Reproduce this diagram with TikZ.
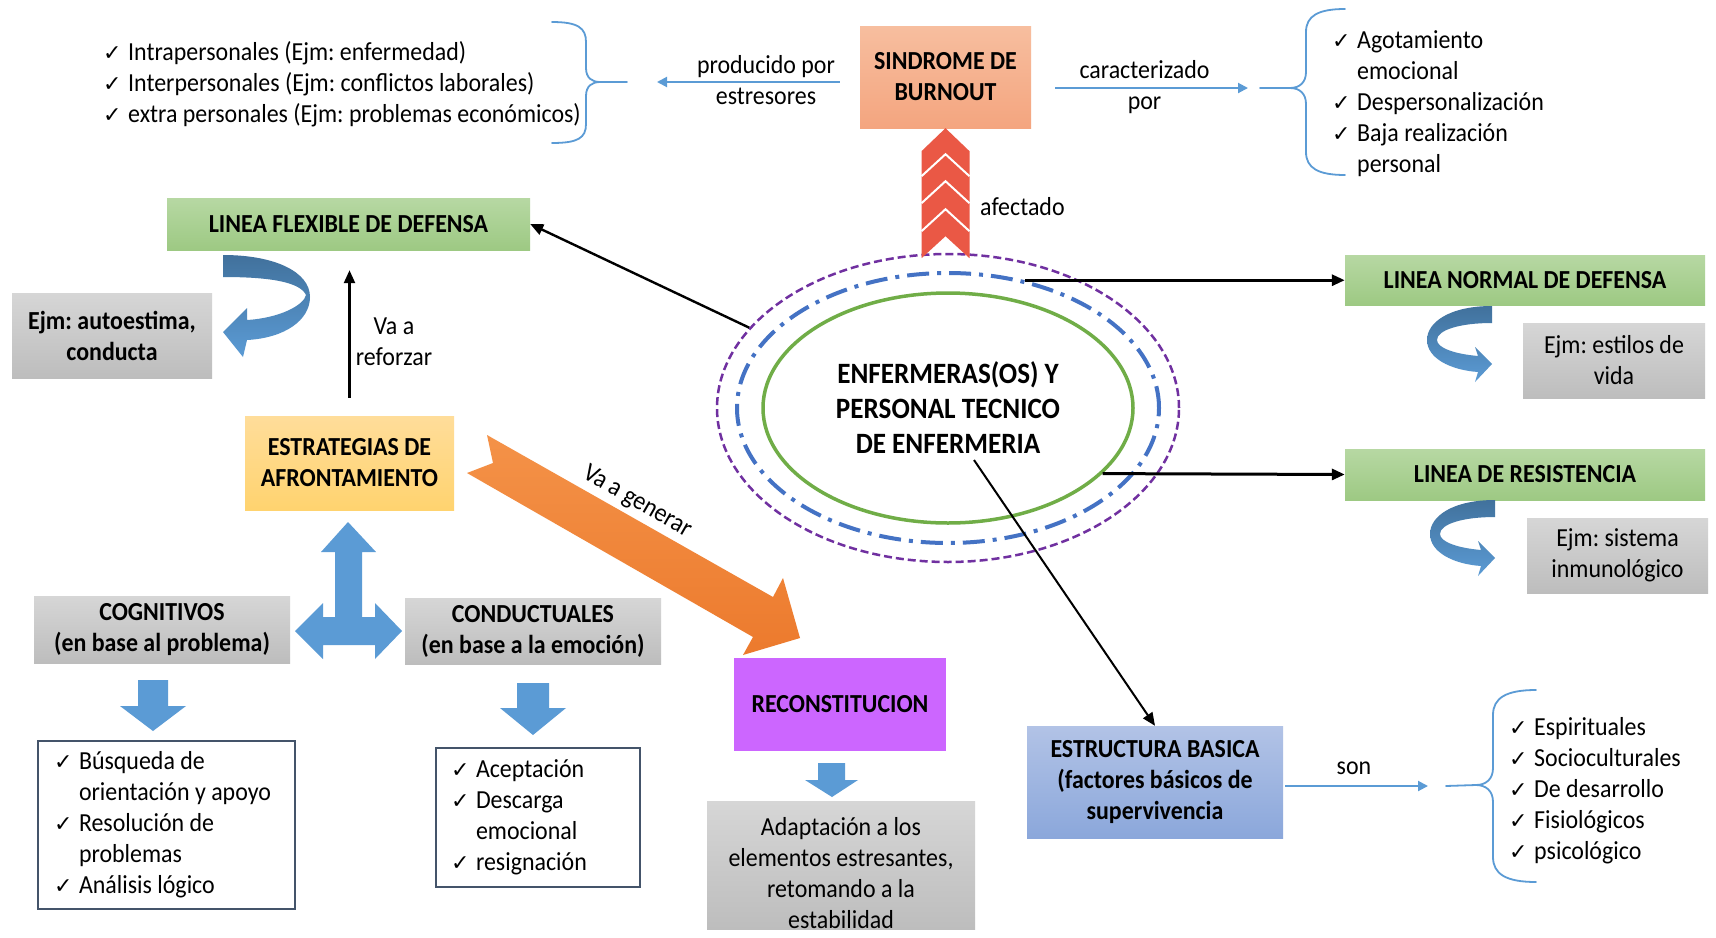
\documentclass[tikz,border=0pt]{standalone}
\usepackage{fontspec}
\setmainfont{Carlito}[FakeStretch=0.92]
\newfontfamily\chkfont{DejaVu Sans}
\usetikzlibrary{arrows.meta,shapes.geometric}
\frenchspacing

\definecolor{verdeA}{HTML}{B7D8A3}
\definecolor{verdeB}{HTML}{9DC983}
\definecolor{grisA}{HTML}{D6D6D6}
\definecolor{grisB}{HTML}{BDBDBD}
\definecolor{salmonA}{HTML}{F7BE9F}
\definecolor{salmonB}{HTML}{F4A57F}
\definecolor{amarA}{HTML}{FFDD9A}
\definecolor{amarB}{HTML}{FFD36F}
\definecolor{azulA}{HTML}{B2C3E6}
\definecolor{azulB}{HTML}{8BA7DB}
\definecolor{violeta}{HTML}{CC66FF}
\definecolor{naranja}{HTML}{EC7A2D}
\definecolor{naranjaA}{HTML}{F49248}
\definecolor{rojo}{HTML}{EA5845}
\definecolor{celeste}{HTML}{5B9BD5}
\definecolor{celesteosc}{HTML}{41719C}
\definecolor{morado}{HTML}{7030A0}
\definecolor{verde}{HTML}{70AD47}
\definecolor{azulrey}{HTML}{4472C4}
\definecolor{borde}{HTML}{44546A}

\newcommand{\ok}{\makebox[25pt][l]{\chkfont\fontsize{22}{22}\selectfont ✓}}
\newcommand{\sang}{\hspace*{25pt}}

\begin{document}
\begin{tikzpicture}[x=1pt, y=-1pt, font=\fontsize{26}{31}\selectfont,
  caja/.style={inner sep=0pt, align=center},
  negrita/.style={font=\fontsize{26}{31}\selectfont\bfseries},
  verdecaja/.style={caja, negrita, top color=verdeA, bottom color=verdeB},
  griscaja/.style={caja, top color=grisA, bottom color=grisB},
  lista/.style={caja, draw=borde, line width=1.2pt, fill=white},
  etiqueta/.style={inner sep=0pt, align=center},
  texto/.style={inner sep=0pt},
  flecha/.style={draw=black, line width=2.4pt, -{Triangle[length=13pt,width=11pt]}},
  azulfina/.style={draw=celeste, line width=2pt, -{Triangle[length=10pt,width=10pt]}},
  llave/.style={draw=celeste, line width=1.8pt, line cap=round}]

\fill[white] (0,0) rectangle (1716,937);
\useasboundingbox (0,0) rectangle (1716,937);

% cajas
\node[caja, negrita, top color=salmonA, bottom color=salmonB, minimum width=171pt, minimum height=102pt] (sindrome) at (945.5,77) {SINDROME DE\\BURNOUT};
\node[verdecaja, minimum width=363pt, minimum height=52pt] (flexible) at (348.5,224) {LINEA FLEXIBLE DE DEFENSA};
\node[griscaja, negrita, minimum width=200pt, minimum height=85pt] (autoestima) at (112,335.5) {Ejm: autoestima,\\conducta};
\node[caja, negrita, top color=amarA, bottom color=amarB, minimum width=209pt, minimum height=94pt] (estrategias) at (349.5,463) {ESTRATEGIAS DE\\AFRONTAMIENTO};
\node[griscaja, negrita, minimum width=256pt, minimum height=67pt] (cognitivos) at (162,629.5) {COGNITIVOS\\(en base al problema)};
\node[griscaja, negrita, minimum width=256pt, minimum height=66pt] (conductuales) at (533,631) {CONDUCTUALES\\(en base a la emoción)};
\node[lista, minimum width=257pt, minimum height=168pt] (listacog) at (166.5,825) {\begin{tabular}{@{}p{225pt}@{}}\ok Búsqueda de\\ \sang orientación y apoyo\\ \ok Resolución de\\ \sang problemas\\ \ok Análisis lógico\end{tabular}};
\node[lista, minimum width=204pt, minimum height=139pt] (listacond) at (538,817.5) {\begin{tabular}{@{}p{174pt}@{}}\ok Aceptación\\ \ok Descarga\\ \sang emocional\\ \ok resignación\end{tabular}};
\node[caja, negrita, fill=violeta, minimum width=212pt, minimum height=93pt] (reconst) at (840,704.5) {RECONSTITUCION};
\node[griscaja, minimum width=268pt, minimum height=125pt] (adaptacion) at (841,865.5) {\rule{0pt}{34pt}Adaptación a los\\elementos estresantes,\\retomando a la\\estabilidad};
\node[caja, negrita, top color=azulA, bottom color=azulB, minimum width=256pt, minimum height=112pt] (estructura) at (1155,782) {ESTRUCTURA BASICA\\(factores básicos de\\supervivencia};
\node[verdecaja, minimum width=360pt, minimum height=50pt] (normal) at (1525,280) {LINEA NORMAL DE DEFENSA};
\node[griscaja, minimum width=182pt, minimum height=75pt] (estilos) at (1614,360.5) {Ejm: estilos de\\vida};
\node[verdecaja, minimum width=360pt, minimum height=51pt] (resistencia) at (1525,474.5) {LINEA DE RESISTENCIA};
\node[griscaja, minimum width=181pt, minimum height=75pt] (inmuno) at (1617.5,555.5) {Ejm: sistema\\inmunológico};

% listas sueltas
\node[texto, anchor=base west] (estresores) at (103,60) {\begin{tabular}[t]{@{}l@{}}\ok Intrapersonales (Ejm: enfermedad)\\ \ok Interpersonales (Ejm: conflictos laborales)\\ \ok extra personales (Ejm: problemas económicos)\end{tabular}};
\node[texto, anchor=base west] (sintomas) at (1332,48) {\begin{tabular}[t]{@{}l@{}}\ok Agotamiento\\ \sang emocional\\ \ok Despersonalización\\ \ok Baja realización\\ \sang personal\end{tabular}};
\node[texto, anchor=base west] (factores) at (1509,735) {\begin{tabular}[t]{@{}l@{}}\ok Espirituales\\ \ok Socioculturales\\ \ok De desarrollo\\ \ok Fisiológicos\\ \ok psicológico\end{tabular}};

% circulos
\node[ellipse, draw=verde, line width=3.5pt, minimum width=370pt, minimum height=230pt, align=center, inner sep=0pt, font=\fontsize{29.5}{35}\selectfont\bfseries] (nucleo) at (948,408) {ENFERMERAS(OS) Y\\PERSONAL TECNICO\\DE ENFERMERIA};
\node[ellipse, draw=azulrey, line width=4pt, dash pattern=on 22pt off 8pt on 4pt off 8pt, minimum width=422pt, minimum height=270pt] (capa2) at (nucleo) {};
\node[ellipse, draw=morado, line width=2.5pt, dash pattern=on 8pt off 4pt, minimum width=462pt, minimum height=308pt] (capa3) at (nucleo) {};

% etiquetas
\node[etiqueta] (lprod) at (766,80) {producido por\\estresores};
\node[etiqueta] (lcarac) at (1144.5,87) {caracterizado\\por};
\node[texto, anchor=west] (lafect) at (980,207) {afectado};
\node[etiqueta] (lrefor) at (394,342) {Va a\\reforzar};
\node[texto] (lson) at (1354,768) {son};

% flechas negras
\draw[flecha] (capa3.158.6) -- (flexible.east);
\draw[flecha, line width=3pt] (capa2.59.4) -- (capa2.59.4 -| normal.west);
\draw[flecha, line width=3pt] (nucleo.-23) -- (resistencia.west);
\coordinate (origen) at (974,460);
\draw[flecha, line width=2pt] (origen) -- (estructura.north);
\draw[flecha, shorten <=18pt, shorten >=20pt] (estrategias.north) -- (estrategias.north |- flexible.south);

% llaves y flechas azules
\coordinate (llave1) at (627,82);
\coordinate (llave2) at (1260,88);
\coordinate (llave3) at (1446,786);
\draw[azulfina, shorten <=20pt, shorten >=30pt] (sindrome.west |- llave1) -- (llave1);
\draw[azulfina, shorten <=24pt, shorten >=12pt] (sindrome.east |- llave2) -- (llave2);
\draw[azulfina, shorten <=2pt, shorten >=18pt] (estructura.east |- llave3) -- (llave3);
\draw[llave] (552,22) .. controls (578,22) and (586,28) .. (586,42) -- (586,68) .. controls (586,78) and (592,82) .. (600,82) .. controls (592,82) and (586,86) .. (586,96) -- (586,124) .. controls (586,138) and (578,143) .. (552,143);
\draw[llave] (600,82) -- (llave1);
\draw[llave] (1345,9) .. controls (1318,9) and (1306,16) .. (1306,32) -- (1306,72) .. controls (1306,82) and (1300,88) .. (1290,88) .. controls (1300,88) and (1306,94) .. (1306,104) -- (1306,152) .. controls (1306,168) and (1318,175) .. (1345,175);
\draw[llave] (1290,88) -- (llave2);
\draw[llave] (1536,690) .. controls (1506,690) and (1493,698) .. (1493,715) -- (1493,768) .. controls (1493,779) and (1486,785) .. (1476,785) .. controls (1486,785) and (1493,791) .. (1493,802) -- (1493,857) .. controls (1493,874) and (1506,882) .. (1536,882);
\draw[llave] (1476,785) -- (llave3);

% flecha naranja
\shade[top color=naranjaA, bottom color=naranja] (487,435) -- (773,597) -- (783,578) -- (800,638) -- (743,655) -- (753,637) -- (467,473) -- (493,463) -- cycle;
\node[texto, rotate=-30] (lgenerar) at (637,502) {Va a generar};

% flecha roja de chevrones
\begin{scope}[shift={(sindrome.south)}]
\fill[rojo] (0,0) -- (24,23) -- (24,130) -- (0,108) -- (-24,130) -- (-24,23) -- cycle;
\draw[white, line width=2pt] (-24,48) -- (0,26) -- (24,48);
\draw[white, line width=2pt] (-24,75) -- (0,53) -- (24,75);
\draw[white, line width=2pt] (-24,103) -- (0,81) -- (24,103);
\end{scope}

% flechas de bloque azules
\fill[celeste] (348,522) -- (376,552) -- (362,552) -- (362,617) -- (375,617) -- (375,603) -- (402,631) -- (375,659) -- (375,645) -- (323,645) -- (323,659) -- (295,631) -- (323,603) -- (323,617) -- (335,617) -- (335,552) -- (321,552) -- cycle;
\fill[celeste] (138,680) -- (168,680) -- (168,706) -- (186,706) -- (153,731) -- (120,706) -- (138,706) -- cycle;
\fill[celeste] (517,683) -- (549,683) -- (549,708) -- (566,708) -- (533,735) -- (500,708) -- (517,708) -- cycle;
\fill[celeste] (818,763) -- (845,763) -- (845,780) -- (858,780) -- (832,797) -- (805,780) -- (818,780) -- cycle;

% flechas curvas
\shade[top color=celesteosc, bottom color=celeste] (223,255) .. controls (275,255) and (310,272) .. (310,297) .. controls (310,320) and (285,338) .. (247,340) -- (243,357) -- (223,332) -- (247,308) -- (247,320) .. controls (280,318) and (304,305) .. (306,295) .. controls (300,282) and (270,277) .. (223,277) -- cycle;
\foreach \dx/\dy in {0/0, 3/194}
  \shade[top color=celesteosc, bottom color=celeste, shift={(\dx,\dy)}] (1492,306) .. controls (1450,306) and (1427,322) .. (1427,340) .. controls (1427,358) and (1450,370) .. (1478,372) -- (1475,382) -- (1492,364) -- (1475,347) -- (1478,356) .. controls (1455,354) and (1437,348) .. (1437,340) .. controls (1437,330) and (1460,323) .. (1492,323) -- cycle;

\end{tikzpicture}
\end{document}
